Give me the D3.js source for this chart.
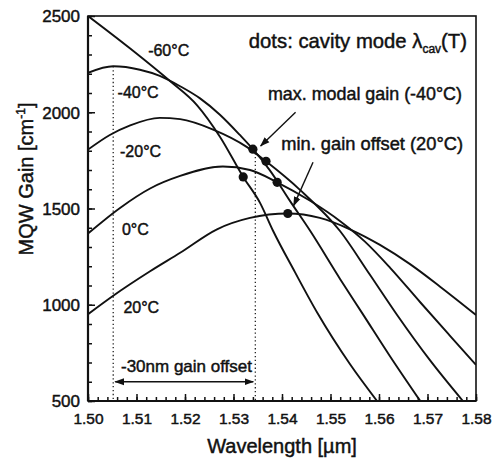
<!DOCTYPE html>
<html><head><meta charset="utf-8">
<script src="https://cdn.jsdelivr.net/npm/d3@7"></script>
<style>
body{margin:0;background:#fff}
text{font-family:"Liberation Sans",Arial,Helvetica,sans-serif;fill:#111;stroke:#111;stroke-width:0.45px}
</style>
</head><body>
<svg id="c" width="494" height="458"></svg>
<script>
// ---- data (wavelength in µm, MQW gain in cm^-1) ----
const temperatures = ["-60°C", "-40°C", "-20°C", "0°C", "20°C"];
const gainM60 = [[1.500,2500],[1.5087,2331],[1.5169,2162],[1.5225,2036],[1.5272,1873],[1.5320,1664],[1.5355,1528],[1.5381,1387],[1.5427,1168],[1.5474,953],[1.5540,692],[1.5596,500]];
const gainM40 = [[1.500,2205],[1.5052,2239],[1.5107,2221],[1.5148,2189],[1.5190,2135],[1.5231,2072],[1.5272,1987],[1.5313,1882],[1.5340,1808],[1.5375,1698],[1.5416,1541],[1.5458,1384],[1.5520,1133],[1.5567,950],[1.5623,731],[1.5685,500]];
const gainM20 = [[1.500,1806],[1.5045,1882],[1.5087,1932],[1.5148,1971],[1.5190,1964],[1.5258,1910],[1.5328,1819],[1.5367,1745],[1.5437,1597],[1.5520,1382],[1.5581,1157],[1.5637,948],[1.5705,712],[1.5773,500]];
const gainP0  = [[1.500,1370],[1.5066,1503],[1.5128,1604],[1.5190,1669],[1.5278,1718],[1.5334,1700],[1.5390,1636],[1.5458,1540],[1.5520,1434],[1.5571,1328],[1.5623,1192],[1.5685,1013],[1.5746,840],[1.5800,688]];
const gainP20 = [[1.500,951],[1.5052,1047],[1.5128,1174],[1.5190,1270],[1.5266,1392],[1.5334,1451],[1.5412,1474],[1.5478,1451],[1.5540,1392],[1.5602,1311],[1.5664,1211],[1.5726,1094],[1.5800,947]];
// cavity mode positions (dots)
const cavityLambda = [1.5320, 1.5340, 1.5367, 1.5390, 1.5412];
const cavityGain   = [1664, 1808, 1745, 1636, 1474];
// axis ticks
const xTicks = [1.50,1.51,1.52,1.53,1.54,1.55,1.56,1.57,1.58];
const yTicks = [500,1000,1500,2000,2500];
// gain offset markers (-40°C peak and cavity mode)
const offsetLambda = [1.5052, 1.5345];
const offsetGainTop = [2239, 1808];

const series = [gainM60, gainM40, gainM20, gainP0, gainP20];

const svg = d3.select("#c");
const L = 88, R = 476, T = 16, B = 401;
const x = d3.scaleLinear().domain([1.50, 1.58]).range([L, R]);
const y = d3.scaleLinear().domain([500, 2500]).range([B, T]);

svg.append("defs").append("clipPath").attr("id","clip")
  .append("rect").attr("x",L).attr("y",T).attr("width",R-L).attr("height",B-T);
const mk = svg.select("defs").append("marker").attr("id","ah").attr("viewBox","0 0 10 10")
  .attr("refX",9).attr("refY",5).attr("markerWidth",7).attr("markerHeight",7)
  .attr("orient","auto-start-reverse");
mk.append("path").attr("d","M0,1.5 L10,5 L0,8.5 Z").attr("fill","#111");

// dotted offset lines
svg.append("g").selectAll("line").data(offsetLambda).join("line")
  .attr("x1",d=>x(d)).attr("x2",d=>x(d))
  .attr("y1",(d,i)=>y(offsetGainTop[i])).attr("y2",y(500))
  .attr("stroke","#222").attr("stroke-width",1.3).attr("stroke-dasharray","1.3,2.6");

// curves
const line = d3.line().x(d=>x(d[0])).y(d=>y(d[1])).curve(d3.curveMonotoneX);
svg.append("g").attr("clip-path","url(#clip)").selectAll("path").data(series).join("path")
  .attr("d",line).attr("fill","none").attr("stroke","#111").attr("stroke-width",1.9);

// dots
svg.append("g").selectAll("circle").data(cavityLambda).join("circle")
  .attr("cx",d=>x(d)).attr("cy",(d,i)=>y(cavityGain[i])).attr("r",4.6).attr("fill","#111");

// axes
const xAxis = d3.axisBottom(x).tickValues(xTicks).tickSize(-7).tickFormat(d3.format(".2f"));
const xMinor = d3.axisBottom(x).tickValues(d3.range(1.50,1.5801,0.002)).tickSize(-4).tickFormat("");
const yAxis = d3.axisLeft(y).tickValues(yTicks).tickSize(-7).tickFormat(d3.format("d"));
const yMinor = d3.axisLeft(y).tickValues(d3.range(500,2501,100)).tickSize(-4).tickFormat("");

const gxm = svg.append("g").attr("transform",`translate(0,${B})`).call(xMinor);
const gx = svg.append("g").attr("transform",`translate(0,${B})`).call(xAxis);
const gym = svg.append("g").attr("transform",`translate(${L},0)`).call(yMinor);
const gy = svg.append("g").attr("transform",`translate(${L},0)`).call(yAxis);
[gx,gxm,gy,gym].forEach(g=>{g.select(".domain").remove();g.selectAll("line").attr("stroke","#111").attr("stroke-width",1.5);});
gx.selectAll("text").attr("font-size",15.5).attr("y",12).attr("dy","0.71em").attr("fill","#111");
gy.selectAll("text").attr("font-size",17).attr("x",-8).attr("dy","0.35em").attr("fill","#111");

svg.append("rect").attr("x",L).attr("y",T).attr("width",R-L).attr("height",B-T)
  .attr("fill","none").attr("stroke","#111").attr("stroke-width",1.6);
svg.append("line").attr("x1",L).attr("x2",L).attr("y1",T).attr("y2",B).attr("stroke","#111").attr("stroke-width",2.2);
svg.append("line").attr("x1",L).attr("x2",R).attr("y1",B).attr("y2",B).attr("stroke","#111").attr("stroke-width",2.2);

// curve labels
const labelPos = [[1.5124,2290],[1.5061,2075],[1.5066,1770],[1.5070,1360],[1.5073,955]];
svg.append("g").selectAll("text").data(temperatures).join("text")
  .attr("x",(d,i)=>x(labelPos[i][0])).attr("y",(d,i)=>y(labelPos[i][1]))
  .attr("font-size",16).text(d=>d);

// axis titles
svg.append("text").attr("x",(L+R)/2 - 0).attr("y",453).attr("text-anchor","middle")
  .attr("font-size",20).text("Wavelength [µm]");
const yt = svg.append("text").attr("transform","translate(33,179) rotate(-90)")
  .attr("text-anchor","middle").attr("font-size",20);
yt.append("tspan").text("MQW Gain [cm");
yt.append("tspan").attr("font-size",12).attr("dy",-8).text("-1");
yt.append("tspan").attr("dy",8).text("]");

// annotations
const t1 = svg.append("text").attr("x",R-9).attr("y",48).attr("text-anchor","end").attr("font-size",20.3);
t1.append("tspan").text("dots: cavity mode λ");
t1.append("tspan").attr("font-size",12).attr("dy",5).text("cav");
t1.append("tspan").attr("dy",-5).text("(T)");
svg.append("text").attr("x",R-14).attr("y",100).attr("text-anchor","end").attr("font-size",17.9).text("max. modal gain (-40°C)");
svg.append("text").attr("x",R-13).attr("y",150).attr("text-anchor","end").attr("font-size",18.3).text("min. gain offset (20°C)");

// arrows (data coordinates)
const arrows = [[[1.5428,2000],[1.5356,1825]],[[1.5464,1740],[1.5424,1515]]];
svg.append("g").selectAll("line").data(arrows).join("line")
  .attr("x1",d=>x(d[0][0])).attr("y1",d=>y(d[0][1])).attr("x2",d=>x(d[1][0])).attr("y2",d=>y(d[1][1]))
  .attr("stroke","#111").attr("stroke-width",1.4).attr("marker-end","url(#ah)");

// gain offset double arrow + label
svg.append("line").attr("x1",x(offsetLambda[0])+2).attr("x2",x(offsetLambda[1])-2)
  .attr("y1",y(600)).attr("y2",y(600)).attr("stroke","#111").attr("stroke-width",1.4)
  .attr("marker-start","url(#ah)").attr("marker-end","url(#ah)");
svg.append("text").attr("x",x(1.5068)).attr("y",y(650)).attr("font-size",17).text("-30nm gain offset");
</script>
</body></html>
